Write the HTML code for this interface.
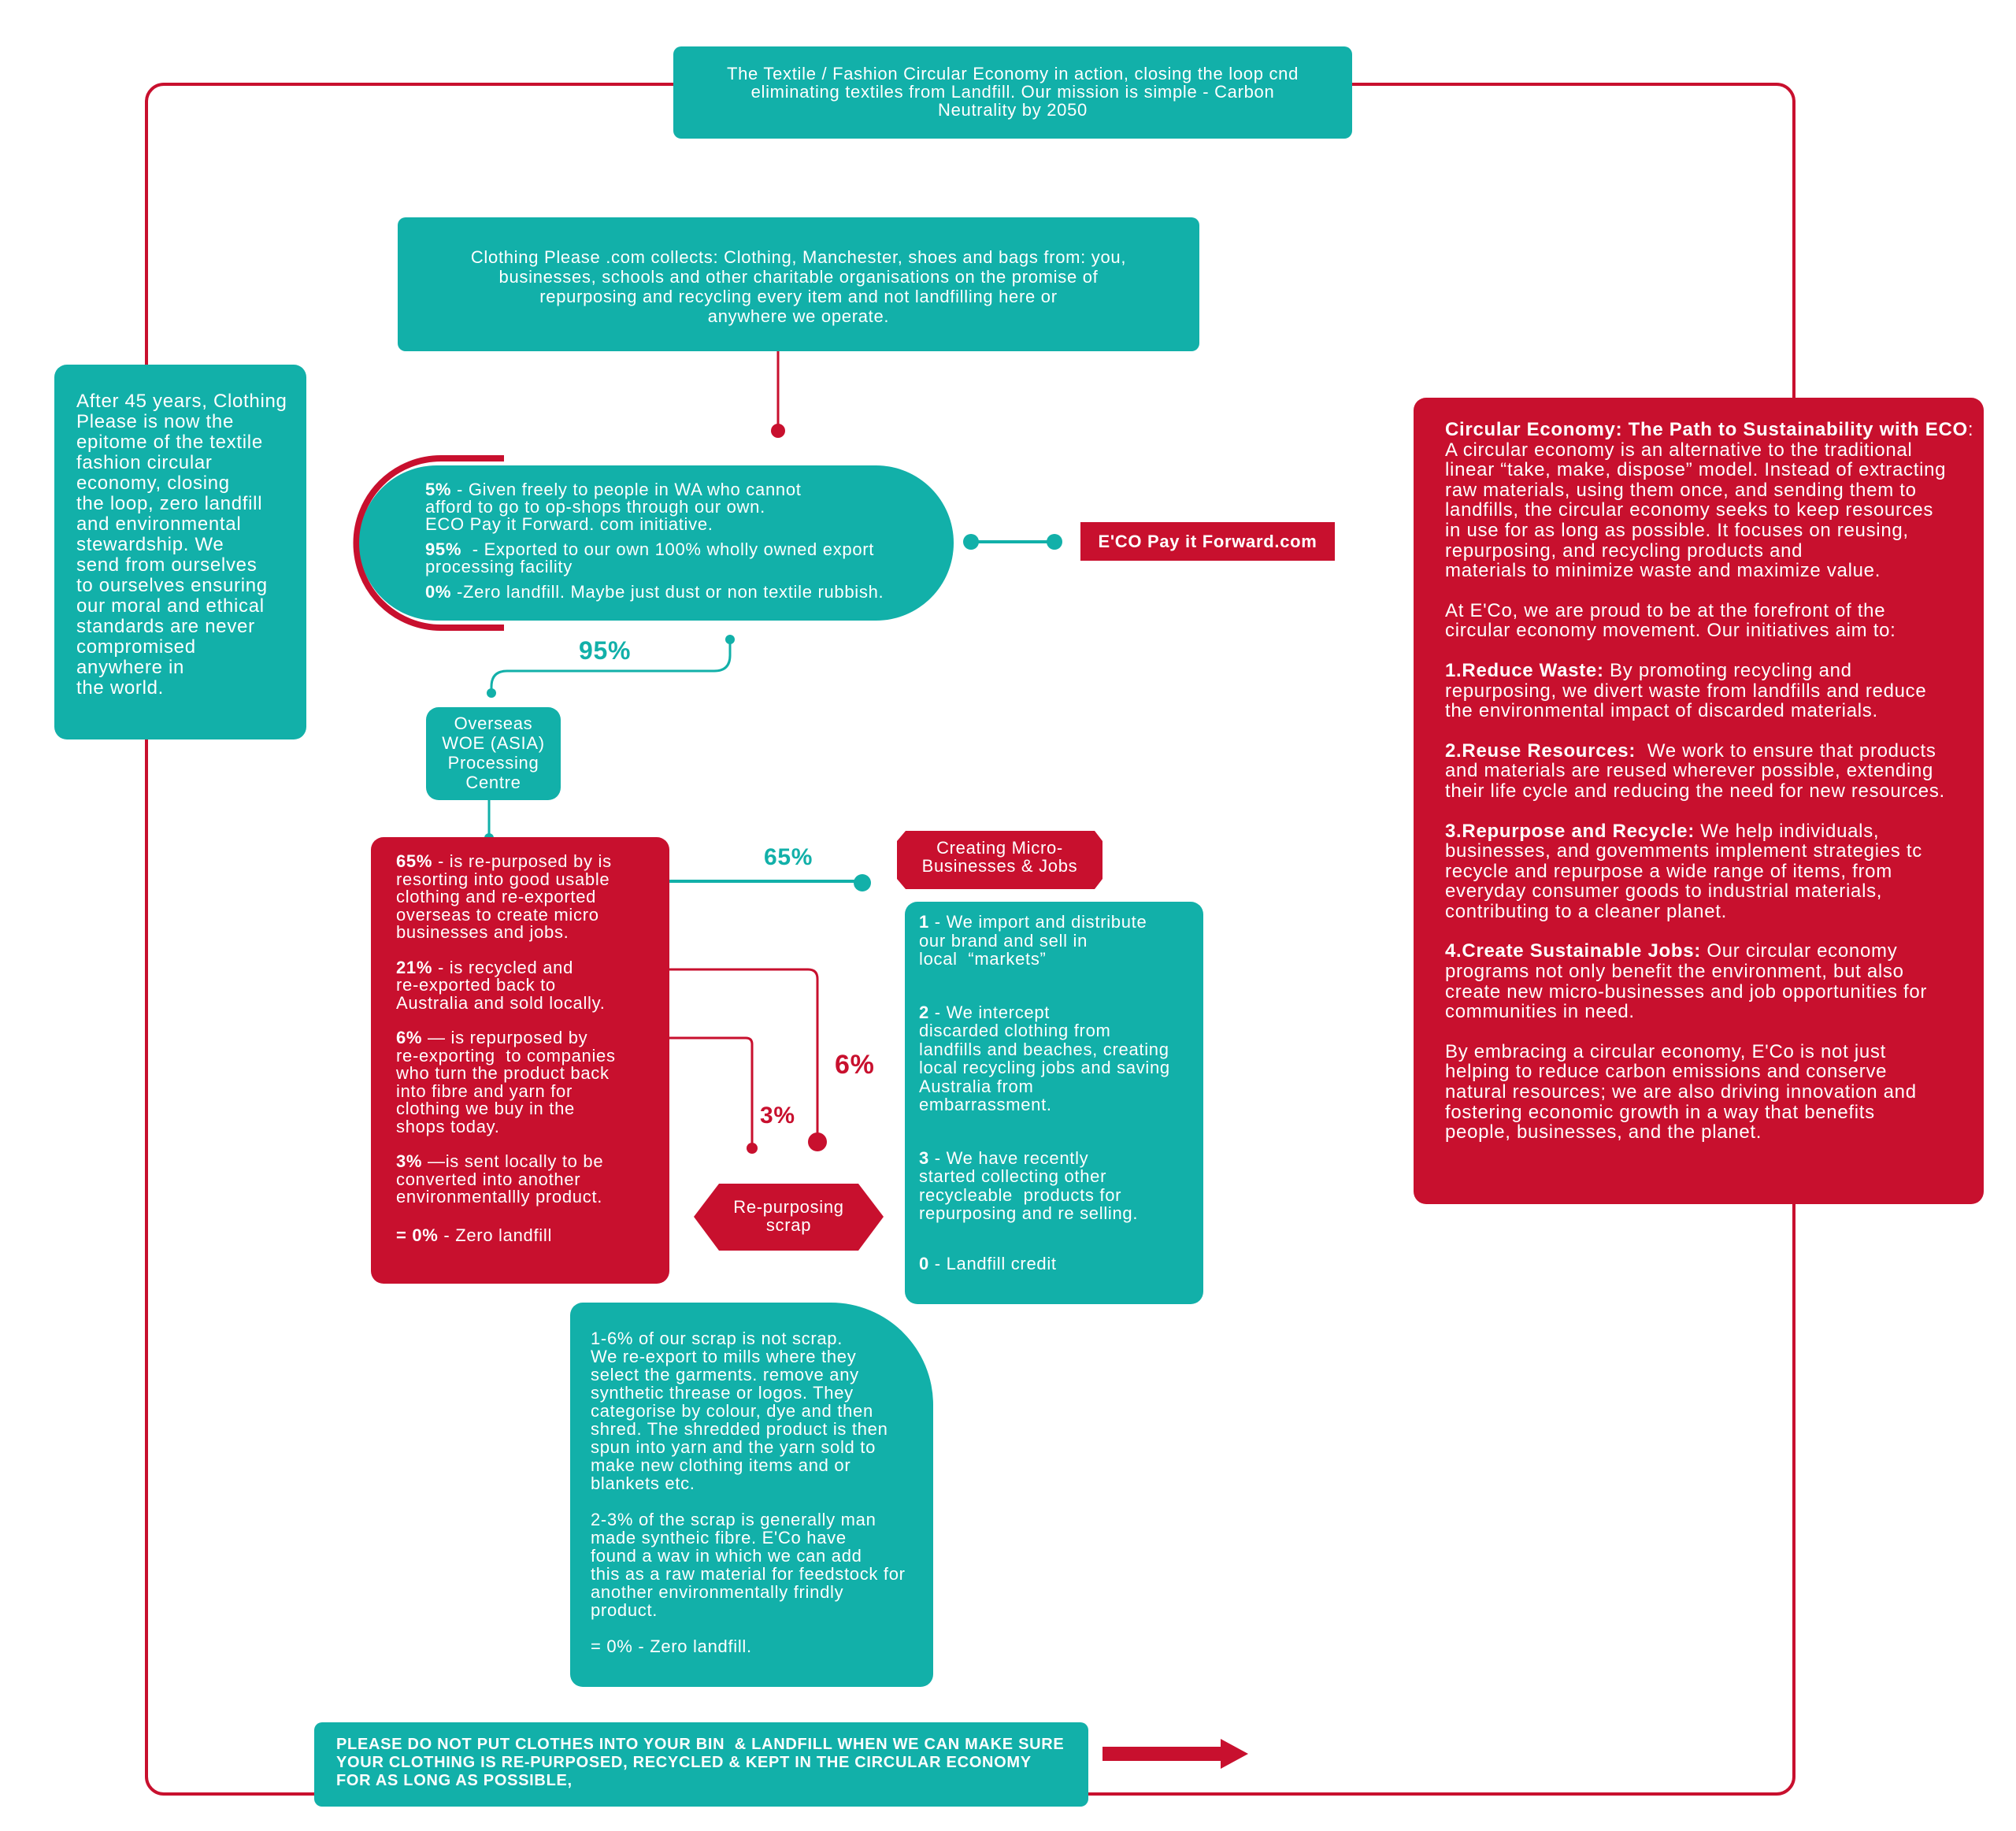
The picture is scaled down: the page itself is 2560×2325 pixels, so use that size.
<!DOCTYPE html>
<html><head><meta charset="utf-8"><style>
*{margin:0;padding:0;box-sizing:border-box}
body{width:2560px;height:2325px;background:#fff;position:relative;font-family:"Liberation Sans",sans-serif;overflow:hidden;letter-spacing:0.7px}
.a{position:absolute}
.t{background:#12b0a9;color:#fff}
.r{background:#c8102e;color:#fff}
p{margin:0}
</style></head><body>
<svg class="a" style="left:0;top:0" width="2560" height="2325">
<rect x="186" y="107" width="2092" height="2171" rx="22" fill="none" stroke="#c8102e" stroke-width="4"/>
<line x1="988" y1="446" x2="988" y2="546" stroke="#c8102e" stroke-width="3"/>
<circle cx="988" cy="547" r="9" fill="#c8102e"/>
<path d="M640 582 L560 582 A105 105 0 0 0 560 797 L640 797" fill="none" stroke="#c8102e" stroke-width="8"/>
<line x1="1231" y1="688" x2="1339" y2="688" stroke="#12b0a9" stroke-width="4"/>
<circle cx="1233" cy="688" r="10" fill="#12b0a9"/><circle cx="1339" cy="688" r="10" fill="#12b0a9"/>
<path d="M927 812 L927 832 Q927 852 907 852 L644 852 Q624 852 624 872 L624 880" fill="none" stroke="#12b0a9" stroke-width="3"/>
<circle cx="927" cy="812" r="6" fill="#12b0a9"/><circle cx="624" cy="880" r="6" fill="#12b0a9"/>
<line x1="621" y1="1016" x2="621" y2="1066" stroke="#12b0a9" stroke-width="3"/>
<circle cx="621" cy="1064" r="6" fill="#12b0a9"/>
<line x1="850" y1="1119" x2="1095" y2="1119" stroke="#12b0a9" stroke-width="4"/>
<circle cx="1095" cy="1121" r="11" fill="#12b0a9"/>
<path d="M850 1231 L1026 1231 Q1038 1231 1038 1243 L1038 1450" fill="none" stroke="#c8102e" stroke-width="3"/>
<circle cx="1038" cy="1450" r="12" fill="#c8102e"/>
<path d="M850 1318 L947 1318 Q955 1318 955 1326 L955 1458" fill="none" stroke="#c8102e" stroke-width="3"/>
<circle cx="955" cy="1458" r="7" fill="#c8102e"/>
<polygon points="1139,1068 1150,1055 1390,1055 1400,1068 1400,1116 1390,1129 1150,1129 1139,1116" fill="#c8102e"/>
<polygon points="881,1545 913,1503 1090,1503 1122,1545 1090,1588 913,1588" fill="#c8102e"/>
<rect x="1400" y="2218" width="150" height="18" fill="#c8102e"/>
<polygon points="1550,2208 1585,2227 1550,2246" fill="#c8102e"/>
</svg>

<div class="a t" style="left:855px;top:59px;width:862px;height:117px;border-radius:10px;text-align:center;font-size:22px;line-height:23px;padding-top:23px">The Textile / Fashion Circular Economy in action, closing the loop cnd<br>eliminating textiles from Landfill. Our mission is simple - Carbon<br>Neutrality by 2050</div>

<div class="a t" style="left:505px;top:276px;width:1018px;height:170px;border-radius:10px;text-align:center;font-size:22px;line-height:25px;padding-top:38px">Clothing Please .com collects: Clothing, Manchester, shoes and bags from: you,<br>businesses, schools and other charitable organisations on the promise of<br>repurposing and recycling every item and not landfilling here or<br>anywhere we operate.</div>

<div class="a t" style="left:69px;top:463px;width:320px;height:476px;border-radius:16px;font-size:24px;line-height:26px;padding:34px 0 0 28px;white-space:nowrap">After 45 years, Clothing<br>Please is now the<br>epitome of the textile<br>fashion circular<br>economy, closing<br>the loop, zero landfill<br>and environmental<br>stewardship. We<br>send from ourselves<br>to ourselves ensuring<br>our moral and ethical<br>standards are never<br>compromised<br>anywhere in<br>the world.</div>

<div class="a t" style="left:456px;top:591px;width:755px;height:197px;border-radius:99px;font-size:22px;line-height:22px;padding:20px 0 0 84px">
<p><b>5%</b> - Given freely to people in WA who cannot<br>afford to go to op-shops through our own.<br>ECO Pay it Forward. com initiative.</p>
<p style="margin-top:10px"><b>95%</b> &nbsp;- Exported to our own 100% wholly owned export<br>processing facility</p>
<p style="margin-top:10px"><b>0%</b> -Zero landfill. Maybe just dust or non textile rubbish.</p></div>

<div class="a r" style="left:1372px;top:663px;width:323px;height:49px;font-weight:bold;font-size:22px;line-height:49px;text-align:center">E'CO Pay it Forward.com</div>

<div class="a" style="left:735px;top:808px;color:#12b0a9;font-weight:bold;font-size:32px">95%</div>

<div class="a t" style="left:541px;top:898px;width:171px;height:118px;border-radius:16px;text-align:center;font-size:22px;line-height:25px;padding-top:8px">Overseas<br>WOE (ASIA)<br>Processing<br>Centre</div>

<div class="a r" style="left:471px;top:1063px;width:379px;height:567px;border-radius:16px;font-size:22px;line-height:22.5px;padding:20px 0 0 32px">
<p><b>65%</b> - is re-purposed by is<br>resorting into good usable<br>clothing and re-exported<br>overseas to create micro<br>businesses and jobs.</p>
<p style="margin-top:22px"><b>21%</b> - is recycled and<br>re-exported back to<br>Australia and sold locally.</p>
<p style="margin-top:22px"><b>6%</b> — is repurposed by<br>re-exporting &nbsp;to companies<br>who turn the product back<br>into fibre and yarn for<br>clothing we buy in the<br>shops today.</p>
<p style="margin-top:22px"><b>3%</b> —is sent locally to be<br>converted into another<br>environmentallly product.</p>
<p style="margin-top:26px"><b>= 0%</b> - Zero landfill</p></div>

<div class="a" style="left:970px;top:1072px;color:#12b0a9;font-weight:bold;font-size:30px">65%</div>
<div class="a" style="left:1060px;top:1333px;color:#c8102e;font-weight:bold;font-size:34px">6%</div>
<div class="a" style="left:965px;top:1400px;color:#c8102e;font-weight:bold;font-size:30px">3%</div>

<div class="a" style="left:1139px;top:1065px;width:261px;text-align:center;color:#fff;font-size:22px;line-height:23px">Creating Micro-<br>Businesses &amp; Jobs</div>
<div class="a" style="left:881px;top:1521px;width:241px;text-align:center;color:#fff;font-size:22px;line-height:23px">Re-purposing<br>scrap</div>

<div class="a t" style="left:1149px;top:1145px;width:379px;height:511px;border-radius:16px;font-size:22px;line-height:23.5px;padding:14px 0 0 18px;white-space:nowrap">
<p><b>1</b> - We import and distribute<br>our brand and sell in<br>local &nbsp;“markets”</p>
<p style="margin-top:44px"><b>2</b> - We intercept<br>discarded clothing from<br>landfills and beaches, creating<br>local recycling jobs and saving<br>Australia from<br>embarrassment.</p>
<p style="margin-top:44px"><b>3</b> - We have recently<br>started collecting other<br>recycleable &nbsp;products for<br>repurposing and re selling.</p>
<p style="margin-top:40px"><b>0</b> - Landfill credit</p></div>

<div class="a t" style="left:724px;top:1654px;width:461px;height:488px;border-radius:16px 130px 16px 16px;font-size:22px;line-height:23px;padding:34px 0 0 26px;white-space:nowrap">
<p>1-6% of our scrap is not scrap.<br>We re-export to mills where they<br>select the garments. remove any<br>synthetic threase or logos. They<br>categorise by colour, dye and then<br>shred. The shredded product is then<br>spun into yarn and the yarn sold to<br>make new clothing items and or<br>blankets etc.</p>
<p style="margin-top:23px">2-3% of the scrap is generally man<br>made syntheic fibre. E'Co have<br>found a wav in which we can add<br>this as a raw material for feedstock for<br>another environmentally frindly<br>product.</p>
<p style="margin-top:23px">= 0% - Zero landfill.</p></div>

<div class="a t" style="left:399px;top:2187px;width:983px;height:107px;border-radius:10px;font-weight:bold;font-size:20px;line-height:23px;padding:17px 0 0 28px;white-space:nowrap">PLEASE DO NOT PUT CLOTHES INTO YOUR BIN &nbsp;&amp; LANDFILL WHEN WE CAN MAKE SURE<br>YOUR CLOTHING IS RE-PURPOSED, RECYCLED &amp; KEPT IN THE CIRCULAR ECONOMY<br>FOR AS LONG AS POSSIBLE,</div>

<div class="a r" style="left:1795px;top:505px;width:724px;height:1024px;border-radius:16px;font-size:24px;line-height:25.6px;padding:28px 0 0 40px;white-space:nowrap">
<p><b>Circular Economy: The Path to Sustainability with ECO</b>:<br>A circular economy is an alternative to the traditional<br>linear “take, make, dispose” model. Instead of extracting<br>raw materials, using them once, and sending them to<br>landfills, the circular economy seeks to keep resources<br>in use for as long as possible. It focuses on reusing,<br>repurposing, and recycling products and<br>materials to minimize waste and maximize value.</p>
<p style="margin-top:25px">At E'Co, we are proud to be at the forefront of the<br>circular economy movement. Our initiatives aim to:</p>
<p style="margin-top:25px"><b>1.Reduce Waste:</b> By promoting recycling and<br>repurposing, we divert waste from landfills and reduce<br>the environmental impact of discarded materials.</p>
<p style="margin-top:25px"><b>2.Reuse Resources:</b> &nbsp;We work to ensure that products<br>and materials are reused wherever possible, extending<br>their life cycle and reducing the need for new resources.</p>
<p style="margin-top:25px"><b>3.Repurpose and Recycle:</b> We help individuals,<br>businesses, and govemments implement strategies tc<br>recycle and repurpose a wide range of items, from<br>everyday consumer goods to industrial materials,<br>contributing to a cleaner planet.</p>
<p style="margin-top:25px"><b>4.Create Sustainable Jobs:</b> Our circular economy<br>programs not only benefit the environment, but also<br>create new micro-businesses and job opportunities for<br>communities in need.</p>
<p style="margin-top:25px">By embracing a circular economy, E'Co is not just<br>helping to reduce carbon emissions and conserve<br>natural resources; we are also driving innovation and<br>fostering economic growth in a way that benefits<br>people, businesses, and the planet.</p></div>
</body></html>
